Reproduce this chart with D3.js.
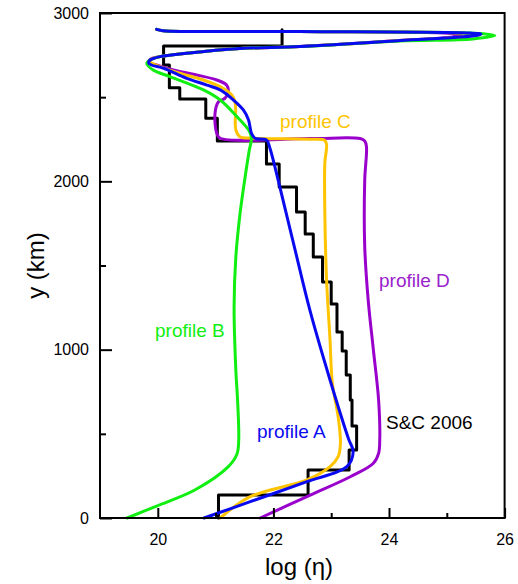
<!DOCTYPE html>
<html>
<head>
<meta charset="utf-8">
<script src="https://cdn.jsdelivr.net/npm/d3@7"></script>
<style>
  body { margin: 0; background: #fff; }
  svg text { font-family: "Liberation Sans", Arial, sans-serif; }
</style>
</head>
<body>
<div id="chart"></div>
<script>
// axis ticks
var xMajor = [20, 22, 24, 26],
    xMinor = [21, 23, 25],
    yMajor = [0, 1000, 2000, 3000],
    yMinor = [500, 1500, 2500];

// S&C 2006 layered model: layer boundaries (km) and log(eta) per layer
var scBounds = [0, 137, 285, 404, 547, 701, 850, 992, 1105, 1271, 1402, 1550, 1687,
                1818, 1966, 2103, 2240, 2375, 2489, 2556, 2691, 2804, 2900];
var scValues = [21.05, 22.60, 23.31, 23.44, 23.36, 23.33, 23.26, 23.19, 23.10, 23.00, 22.85,
                22.69, 22.55, 22.40, 22.10, 21.88, 21.03, 20.83, 20.38, 20.20, 20.10, 22.15];

// profiles: [log(eta), y km]
var profileA = [
  [20.80, 0], [21.60, 97], [22.58, 216], [23.27, 305], [23.38, 394], [23.30, 470],
  [22.98, 820], [22.63, 1236], [22.37, 1600], [22.11, 1968], [21.94, 2196], [21.88, 2246],
  [21.68, 2256], [21.62, 2285], [21.57, 2364], [21.48, 2424], [21.31, 2483], [21.08, 2543],
  [20.85, 2572], [20.50, 2612], [20.10, 2672], [19.89, 2691], [19.84, 2705], [19.87, 2721],
  [20.04, 2741], [20.50, 2761], [21.42, 2789], [22.46, 2801], [24.19, 2836], [25.51, 2866],
  [25.59, 2875], [25.40, 2881], [22.46, 2890], [20.09, 2895], [19.98, 2903]
];
var profileB = [
  [19.47, 0], [19.98, 71], [20.64, 166], [21.22, 305], [21.37, 380], [21.40, 463],
  [21.38, 701], [21.35, 879], [21.32, 1255], [21.35, 1550], [21.42, 1800], [21.50, 2000],
  [21.58, 2180], [21.62, 2256], [21.58, 2300], [21.37, 2384], [21.08, 2483], [20.79, 2543],
  [20.21, 2622], [19.92, 2661], [19.81, 2701], [19.87, 2721], [20.04, 2741], [20.50, 2761],
  [21.42, 2789], [22.46, 2801], [24.19, 2834], [25.45, 2846], [25.83, 2866], [25.57, 2878],
  [22.46, 2890], [20.09, 2895], [19.98, 2903]
];
var profileC = [
  [21.08, 0], [21.60, 127], [22.58, 226], [22.98, 305], [23.12, 364], [23.16, 444],
  [23.12, 602], [23.02, 800], [22.98, 1057], [22.92, 1414], [22.89, 1812], [22.89, 2109],
  [22.92, 2216], [22.89, 2243], [22.63, 2250], [21.65, 2256], [21.42, 2265], [21.35, 2305],
  [21.34, 2464], [21.28, 2513], [21.13, 2553], [20.79, 2602], [20.38, 2642], [20.04, 2681],
  [19.87, 2711], [19.90, 2727], [20.04, 2741], [20.50, 2761], [21.42, 2789], [22.46, 2801],
  [24.19, 2836], [25.35, 2862], [25.45, 2872], [25.30, 2880], [22.46, 2890], [20.09, 2895],
  [19.98, 2903]
];
var profileD = [
  [21.77, 0], [22.58, 127], [23.33, 245], [23.73, 325], [23.82, 384], [23.84, 463],
  [23.82, 701], [23.73, 998], [23.64, 1295], [23.58, 1612], [23.58, 2008], [23.61, 2206],
  [23.58, 2240], [23.50, 2254], [22.63, 2254], [21.08, 2256], [21.02, 2285], [20.99, 2404],
  [21.05, 2473], [21.16, 2493], [21.22, 2533], [21.19, 2572], [21.02, 2602], [20.67, 2632],
  [20.27, 2661], [19.98, 2691], [19.84, 2711], [19.90, 2730], [20.04, 2741], [20.50, 2761],
  [21.42, 2789], [22.46, 2801], [24.19, 2836], [25.10, 2858], [25.25, 2868], [25.10, 2878],
  [22.46, 2890], [20.09, 2895], [19.98, 2903]
];

var width = 518, height = 584;
var margin = {top: 13, right: 13, bottom: 66, left: 100};

var svg = d3.select('#chart').append('svg')
    .attr('width', width)
    .attr('height', height);

var x = d3.scaleLinear().domain([19, 26]).range([margin.left, width - margin.right - 0.4]);
var y = d3.scaleLinear().domain([0, 3000]).range([height - margin.bottom, margin.top]);

// staircase points from the layers
var scPoints = [];
scValues.forEach(function(v, i) {
    scPoints.push([v, scBounds[i]]);
    scPoints.push([v, scBounds[i + 1]]);
});

var line = d3.line()
    .x(function(d) { return x(d[0]); })
    .y(function(d) { return y(d[1]); });

var smooth = d3.line()
    .x(function(d) { return x(d[0]); })
    .y(function(d) { return y(d[1]); })
    .curve(d3.curveCatmullRom.alpha(0.5));

var series = [
    {data: scPoints, color: '#000000', gen: line},
    {data: profileD, color: '#9900cc', gen: smooth},
    {data: profileC, color: '#ffc400', gen: smooth},
    {data: profileB, color: '#11ee11', gen: smooth},
    {data: profileA, color: '#0a0af0', gen: smooth}
];

series.forEach(function(s) {
    svg.append('path')
        .attr('d', s.gen(s.data))
        .attr('fill', 'none')
        .attr('stroke', s.color)
        .attr('stroke-width', 3)
        .attr('stroke-linejoin', 'round')
        .attr('stroke-linecap', 'round');
});

// axes with inward ticks
var fmt = d3.format('d');
svg.append('g')
    .attr('transform', 'translate(0,' + y(0) + ')')
    .call(d3.axisBottom(x).tickValues(xMajor).tickFormat(fmt)
        .tickSizeInner(-10).tickSizeOuter(0).tickPadding(16));
svg.append('g')
    .attr('transform', 'translate(0,' + y(0) + ')')
    .call(d3.axisBottom(x).tickValues(xMinor).tickFormat('').tickSizeInner(-5).tickSizeOuter(0));

svg.append('g')
    .attr('transform', 'translate(' + x(19) + ',0)')
    .call(d3.axisLeft(y).tickValues(yMajor).tickFormat(fmt)
        .tickSizeInner(-12).tickSizeOuter(0).tickPadding(11));
svg.append('g')
    .attr('transform', 'translate(' + x(19) + ',0)')
    .call(d3.axisLeft(y).tickValues(yMinor).tickFormat('').tickSizeInner(-6).tickSizeOuter(0));

svg.selectAll('.domain').remove();
svg.selectAll('.tick line').attr('stroke', '#000').attr('stroke-width', 2);
svg.selectAll('.tick text').attr('font-size', 16).attr('fill', '#000')
    .style('font-family', '"Liberation Sans", Arial, sans-serif');

// frame
svg.append('rect')
    .attr('x', x(19))
    .attr('y', y(3000))
    .attr('width', x(26) - x(19))
    .attr('height', y(0) - y(3000))
    .attr('fill', 'none')
    .attr('stroke', '#000')
    .attr('stroke-width', 2);

// axis titles
svg.append('text')
    .attr('x', 299)
    .attr('y', 575)
    .attr('text-anchor', 'middle')
    .attr('font-size', 24)
    .text('log (\u03b7)');

svg.append('text')
    .attr('transform', 'translate(44,' + y(1500) + ') rotate(-90)')
    .attr('text-anchor', 'middle')
    .attr('font-size', 24)
    .text('y (km)');

// curve labels
var labels = [
    {text: 'profile C', x: 280, y: 128, color: '#ffc400'},
    {text: 'profile D', x: 379, y: 287, color: '#9922cc'},
    {text: 'profile B', x: 155, y: 337, color: '#11ee11'},
    {text: 'profile A', x: 257, y: 438, color: '#0a0af0'},
    {text: 'S&C 2006', x: 386, y: 429, color: '#000000'}
];
svg.selectAll('.label')
    .data(labels)
    .enter().append('text')
    .attr('class', 'label')
    .attr('x', function(d) { return d.x; })
    .attr('y', function(d) { return d.y; })
    .attr('fill', function(d) { return d.color; })
    .attr('font-size', 19)
    .text(function(d) { return d.text; });
</script>
</body>
</html>
